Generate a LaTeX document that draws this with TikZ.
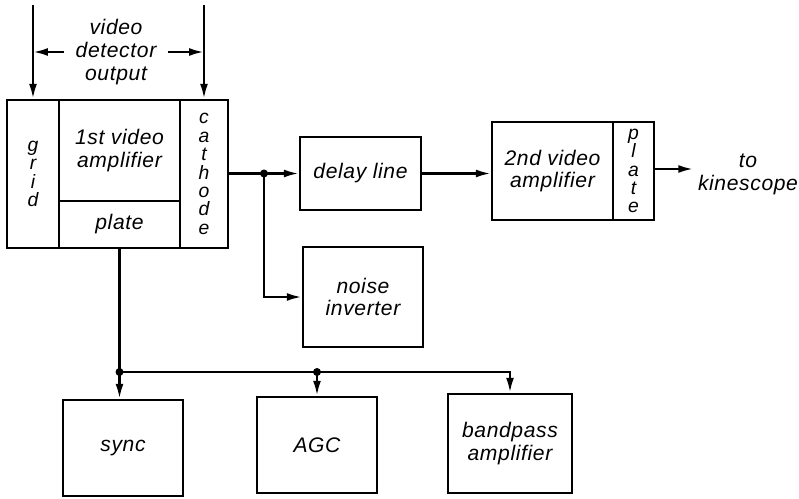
\documentclass[tikz,border=0pt]{standalone}
\usepackage{fontspec}
\setsansfont{Liberation Sans}[LetterSpace=3]
\usetikzlibrary{arrows.meta,positioning,calc}

\begin{document}
\begin{tikzpicture}[x=0.02cm, y=-0.02cm, line width=1.4pt, >={Latex[length=3mm,width=1.6mm]},
  font=\sffamily\itshape\fontsize{12}{13}\selectfont]
  \tikzstyle{blk} = [rectangle, draw, inner sep=0pt, align=center]
  \tikzstyle{col} = [blk, font=\sffamily\itshape\fontsize{11}{10.5}\selectfont]
  \tikzstyle{lbl} = [align=center, inner sep=2pt]

  \useasboundingbox (0,0) rectangle (799,499);

  % 1st video amplifier
  \node[col, minimum width=1.04cm, minimum height=2.96cm] (grid) at (33,174) {g\\r\\i\\d};
  \node[blk, minimum width=2.42cm, minimum height=2.02cm] (amp1) at (119.5,150.5) {1st video\\amplifier};
  \node[blk, minimum width=2.42cm, minimum height=0.94cm] (plate1) at (119.5,224.5) {plate};
  \node[col, minimum width=0.96cm, minimum height=2.96cm] (cathode) at (204,174) {c\\a\\t\\h\\o\\d\\e};

  \coordinate (gin) at (33,5);
  \coordinate (cin) at (204,5);
  \draw[->] (gin) -- (grid.north);
  \draw[->] (cin) -- (cathode.north);
  \node[lbl, inner sep=0.2cm] (vdo) at (116,52) {video\\detector\\output};
  \draw[->] (vdo.west) -- (vdo.west -| gin);
  \draw[->] (vdo.east) -- (vdo.east -| cin);

  % delay line and noise inverter
  \node[blk, minimum width=2.42cm, minimum height=1.46cm] (delay) at (360.5,173.5) {delay line};
  \node[blk, minimum width=2.4cm, minimum height=2cm] (noise) at (363,297) {noise\\inverter};
  \coordinate (j1) at (264,173.5);
  \draw[->] (delay.west -| cathode.east) -- (delay.west);
  \draw[->] (j1) |- (noise.west);
  \fill (j1) circle[radius=0.08cm];

  % 2nd video amplifier
  \node[blk, minimum width=2.42cm, minimum height=1.96cm] (amp2) at (552.5,171) {2nd video\\amplifier};
  \node[col, minimum width=0.82cm, minimum height=1.96cm] (plate2) at (633.5,171) {p\\l\\a\\t\\e};
  \draw[->] (delay.east) -- (delay.east -| amp2.west);
  \node[lbl] (kin) at (748,174) {to\\kinescope};
  \draw[->] (plate2.east |- 0,169) -- (kin.west |- 0,169);

  % plate outputs
  \node[blk, minimum width=2.4cm, minimum height=1.92cm] (sync) at (123,448) {sync};
  \node[blk, minimum width=2.4cm, minimum height=1.92cm] (agc) at (317,445) {AGC};
  \node[blk, minimum width=2.48cm, minimum height=1.98cm] (bpass) at (510,443.5) {bandpass\\amplifier};
  \coordinate (j2) at (plate1.south |- 0,372);
  \coordinate (j3) at (agc.north |- j2);
  \draw (plate1.south) -- (j2);
  \draw[->] (j2) -- (j2 |- sync.north);
  \draw[->] (j2) -| (bpass.north);
  \draw[->] (j3) -- (agc.north);
  \fill (j2) circle[radius=0.08cm];
  \fill (j3) circle[radius=0.08cm];
\end{tikzpicture}
\end{document}
